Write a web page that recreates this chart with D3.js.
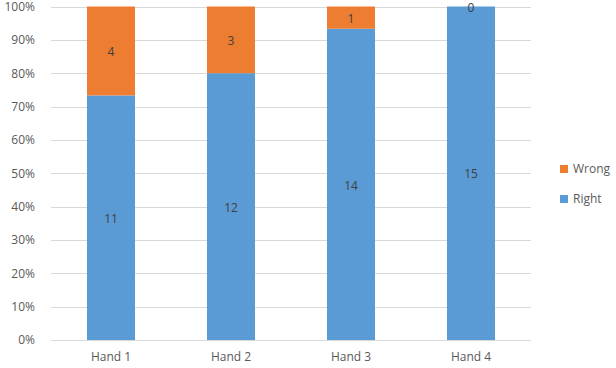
<!DOCTYPE html>
<html>
<head>
<meta charset="utf-8">
<script src="https://cdn.jsdelivr.net/npm/d3@7"></script>
<style>
  body { margin: 0; background: #fff; }
  svg text { font-family: "Open Sans", "Segoe UI", sans-serif; }
</style>
</head>
<body>
<svg id="chart" width="616" height="368"></svg>
<script>
// chart data
var hands = ["Hand 1", "Hand 2", "Hand 3", "Hand 4"];
var right = [11, 12, 14, 15];
var wrong = [4, 3, 1, 0];
var seriesNames = ["Right", "Wrong"];
var colors = ["#5B9BD5", "#ED7D31"];
var yTicks = [0, 0.1, 0.2, 0.3, 0.4, 0.5, 0.6, 0.7, 0.8, 0.9, 1];

var svg = d3.select("#chart");

var xScale = d3.scaleBand()
  .domain(hands)
  .range([51, 531])
  .paddingInner(0.6)
  .paddingOuter(0.3);

var yScale = d3.scaleLinear()
  .domain([0, 1])
  .range([340, 6.5]);

// gridlines
svg.append("g")
  .selectAll("line")
  .data(yTicks)
  .enter().append("line")
  .attr("x1", 51).attr("x2", 531)
  .attr("y1", function (d) { return Math.round(yScale(d)) + 0.5; })
  .attr("y2", function (d) { return Math.round(yScale(d)) + 0.5; })
  .attr("stroke", "#d9d9d9")
  .attr("stroke-width", 1);

// left axis, labels only
var laxis = d3.axisLeft(yScale)
  .tickValues(yTicks)
  .tickFormat(d3.format(".0%"))
  .tickSize(0)
  .tickPadding(0);

var lg = svg.append("g")
  .attr("transform", "translate(35,0)")
  .call(laxis);
lg.select(".domain").remove();
lg.selectAll("text")
  .attr("fill", "#595959")
  .style("font-size", "12px");

// bottom axis, labels only
var baxis = d3.axisBottom(xScale).tickSize(0).tickPadding(0);
var bg = svg.append("g")
  .attr("transform", "translate(0,352)")
  .call(baxis);
bg.select(".domain").remove();
bg.selectAll("text")
  .attr("fill", "#595959")
  .style("font-size", "12px");

// stacked to 100%
var rows = hands.map(function (h, i) {
  var total = right[i] + wrong[i];
  return { hand: h, Right: right[i] / total, Wrong: wrong[i] / total, rawRight: right[i], rawWrong: wrong[i] };
});
var stack = d3.stack().keys(seriesNames);
var layers = stack(rows);

var groups = svg.append("g")
  .selectAll("g")
  .data(layers)
  .enter().append("g")
  .attr("fill", function (d, i) { return colors[i]; });

groups.selectAll("rect")
  .data(function (d) { return d; })
  .enter().append("rect")
  .attr("x", function (d) { return xScale(d.data.hand); })
  .attr("width", xScale.bandwidth())
  .attr("y", function (d) { return yScale(d[1]); })
  .attr("height", function (d) { return yScale(d[0]) - yScale(d[1]); });

// data labels
layers.forEach(function (layer) {
  svg.append("g")
    .selectAll("text")
    .data(layer)
    .enter().append("text")
    .attr("x", function (d) { return xScale(d.data.hand) + xScale.bandwidth() / 2; })
    .attr("y", function (d) { return (yScale(d[0]) + yScale(d[1])) / 2 + 1; })
    .attr("dy", "0.35em")
    .attr("text-anchor", "middle")
    .attr("fill", "#404040")
    .style("font-size", "12px")
    .text(function (d) { return d.data["raw" + layer.key]; });
});

// legend
var legendItems = [
  { name: "Wrong", color: colors[1], y: 169 },
  { name: "Right", color: colors[0], y: 199 }
];
var leg = svg.append("g");
leg.selectAll("rect")
  .data(legendItems)
  .enter().append("rect")
  .attr("x", 560).attr("y", function (d) { return d.y - 4; })
  .attr("width", 8).attr("height", 8)
  .attr("fill", function (d) { return d.color; });
leg.selectAll("text")
  .data(legendItems)
  .enter().append("text")
  .attr("x", 573).attr("y", function (d) { return d.y; })
  .attr("dy", "0.35em")
  .attr("fill", "#595959")
  .style("font-size", "12px")
  .text(function (d) { return d.name; });
</script>
</body>
</html>
